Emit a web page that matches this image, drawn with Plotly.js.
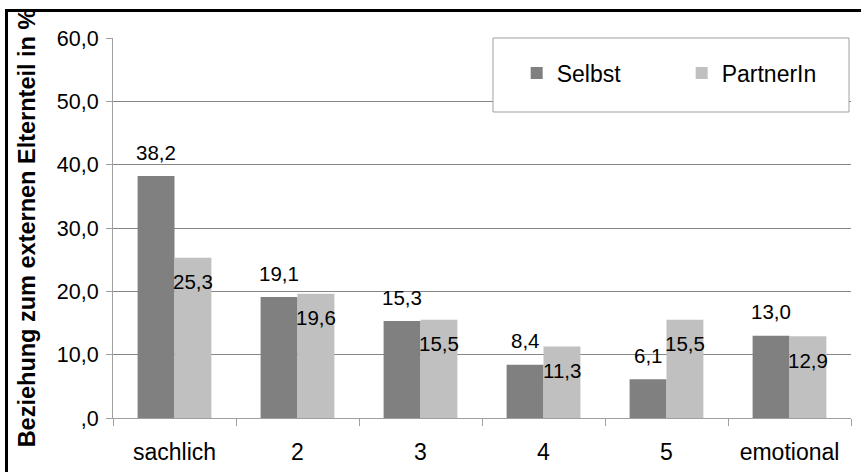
<!DOCTYPE html>
<html>
<head>
<meta charset="utf-8">
<script src="https://cdn.plot.ly/plotly-3.0.1.min.js"></script>
<style>
  html, body { margin: 0; padding: 0; background: #fff; }
  #wrap { position: relative; width: 861px; height: 472px; overflow: hidden; }
  #chart { position: absolute; left: 0; top: 0; width: 861px; height: 472px; }
  #clip { position: absolute; left: 0; top: 0; width: 861px; height: 9px; background: #fff; pointer-events: none; }
  #frame { position: absolute; left: 5px; top: 9px; width: 900px; height: 500px;
           border-left: 3px solid #000; border-top: 3px solid #000; pointer-events: none; }
</style>
</head>
<body>
<div id="wrap">
  <div id="chart"></div>
  <div id="clip"></div>
  <div id="frame"></div>
</div>
<script>
const categories = ['sachlich', '2', '3', '4', '5', 'emotional'];
const selbst = [38.2, 19.1, 15.3, 8.4, 6.1, 13.0];
const partnerIn = [25.3, 19.6, 15.5, 11.3, 15.5, 12.9];
const seriesNames = ['Selbst', 'PartnerIn'];
const yTickVals = [0, 10, 20, 30, 40, 50, 60];
const yTickText = [',0', '10,0', '20,0', '30,0', '40,0', '50,0', '60,0'];

const fmt = v => v.toFixed(1).replace('.', ',');
const FONT = '"Liberation Sans", Arial, sans-serif';

const traces = [
  { type: 'bar', name: seriesNames[0], x: categories, y: selbst,
    marker: { color: '#808080' }, hoverinfo: 'x+y' },
  { type: 'bar', name: seriesNames[1], x: categories, y: partnerIn,
    marker: { color: '#c0c0c0' }, hoverinfo: 'x+y' }
];

const annotations = [];
selbst.forEach((v, i) => annotations.push({
  x: i - 0.15, y: v, xref: 'x', yref: 'y', text: fmt(v), showarrow: false,
  yanchor: 'middle', yshift: 24, font: { family: FONT, size: 20.5, color: '#000' }
}));
partnerIn.forEach((v, i) => annotations.push({
  x: i + 0.15, y: v, xref: 'x', yref: 'y', text: fmt(v), showarrow: false,
  yanchor: 'middle', yshift: -24, font: { family: FONT, size: 20.5, color: '#000' }
}));

const layout = {
  width: 861, height: 472,
  margin: { l: 113, r: 10, t: 38, b: 54, pad: 0 },
  paper_bgcolor: '#fff', plot_bgcolor: '#fff',
  font: { family: FONT, color: '#000' },
  barmode: 'group', bargap: 0.4, bargroupgap: 0,
  showlegend: true,
  legend: {
    orientation: 'h', x: 0.547, xanchor: 'left', y: 0.908, yanchor: 'middle',
    bgcolor: 'rgba(0,0,0,0)', borderwidth: 0,
    font: { family: FONT, size: 23, color: '#000' },
    entrywidth: 120, entrywidthmode: 'pixels', traceorder: 'normal'
  },
  xaxis: {
    type: 'category', automargin: false,
    showline: true, linecolor: '#a0a0a0', linewidth: 1,
    ticks: 'outside', tickson: 'boundaries', ticklen: 7, tickcolor: '#a0a0a0',
    ticklabelstandoff: 13,
    tickfont: { family: FONT, size: 23, color: '#000' },
    showgrid: false, zeroline: false, fixedrange: true
  },
  yaxis: {
    range: [0, 60], automargin: false,
    tickvals: yTickVals, ticktext: yTickText,
    showline: true, linecolor: '#a0a0a0', linewidth: 1,
    ticks: 'outside', ticklen: 6, tickcolor: '#a0a0a0',
    ticklabelstandoff: 3,
    tickfont: { family: FONT, size: 21.5, color: '#000' },
    showgrid: true, gridcolor: '#868686', gridwidth: 1, zeroline: false,
    title: { text: 'Beziehung zum externen Elternteil in %', standoff: 14,
             font: { family: FONT, size: 23.5, color: '#000', weight: 'bold' } },
    fixedrange: true
  },
  shapes: [{
    type: 'rect', xref: 'paper', yref: 'paper', layer: 'above',
    x0: 0.5149, x1: 0.9973, y0: 0.8053, y1: 1.0,
    fillcolor: '#fff', line: { color: '#a0a0a0', width: 1 }
  }],
  annotations: annotations
};

Plotly.newPlot('chart', traces, layout, { displayModeBar: false, staticPlot: true });
</script>
</body>
</html>
